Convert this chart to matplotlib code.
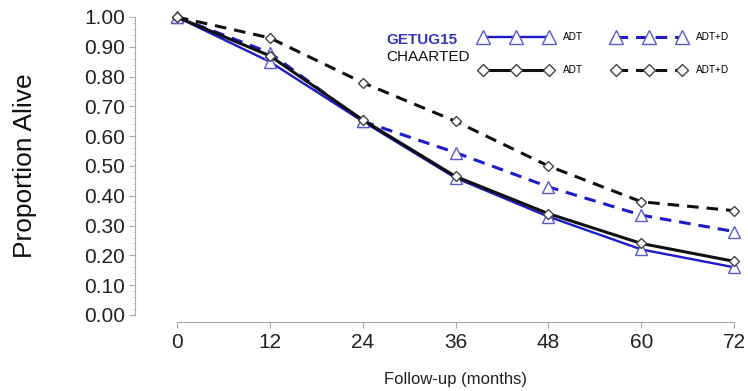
import matplotlib
matplotlib.use("Agg")
import matplotlib.pyplot as plt

plt.rcParams['font.family'] = ['Liberation Sans', 'DejaVu Sans']

months = [0, 12, 24, 36, 48, 60, 72]
getug_adt = [1.00, 0.85, 0.65, 0.46, 0.33, 0.22, 0.16]
getug_adtd = [1.00, 0.88, 0.65, 0.545, 0.43, 0.335, 0.28]
chaarted_adt = [1.00, 0.87, 0.655, 0.465, 0.34, 0.24, 0.18]
chaarted_adtd = [1.00, 0.93, 0.78, 0.65, 0.50, 0.38, 0.35]
yticks = [0.0, 0.1, 0.2, 0.3, 0.4, 0.5, 0.6, 0.7, 0.8, 0.9, 1.0]
legend_labels = ['ADT', 'ADT', 'ADT+D', 'ADT+D']

W, H = 748, 391
fig = plt.figure(figsize=(W/100, H/100), dpi=100)
x0, x1 = -5.4, 73.0
y0, y1 = -0.0235, 1.01
px_left, px_right = 135, 742
px_top = 315 - 298*1.01
px_bot = 322
ax = fig.add_axes([px_left/W, (H-px_bot)/H, (px_right-px_left)/W, (px_bot-px_top)/H])
ax.set_xlim(x0, x1)
ax.set_ylim(y0, y1)

blue = '#1c1cc8'
blue_m = '#5a5ac8'
black = '#101010'
dash = (0, (3.8, 2.6))

l1, = ax.plot(months, getug_adt, color=blue, lw=1.7, marker='^', markeredgecolor=blue_m,
              markersize=8.5, markerfacecolor='white', zorder=3, clip_on=False)
l2, = ax.plot(months, getug_adtd, color=blue, lw=2.2, ls=dash, marker='^', markeredgecolor=blue_m,
              markersize=8.5, markerfacecolor='white', zorder=3, clip_on=False)
l3, = ax.plot(months, chaarted_adt, color=black, lw=2.2, marker='D', markeredgecolor='#444444',
              markersize=5.5, markerfacecolor='white', zorder=4, clip_on=False)
l4, = ax.plot(months, chaarted_adtd, color=black, lw=2.2, ls=dash, marker='D', markeredgecolor='#444444',
              markersize=5.5, markerfacecolor='white', zorder=4, clip_on=False)

for s in ['top', 'right']:
    ax.spines[s].set_visible(False)
ax.spines['left'].set_bounds(0, 1)
ax.spines['bottom'].set_bounds(0, 72)
for s in ['left', 'bottom']:
    ax.spines[s].set_color('#aaaaaa')
    ax.spines[s].set_linewidth(0.8)

ax.set_yticks(yticks)
ax.set_yticklabels([f"{v:.2f}" for v in yticks])
ax.set_yticks([v/100 for v in range(0, 101, 2)], minor=True)
ax.set_xticks(months)
ax.tick_params(axis='both', colors='#aaaaaa', labelcolor='#222222', labelsize=15, length=4, width=0.8)
ax.tick_params(axis='y', which='major', pad=3)
ax.tick_params(axis='y', which='minor', length=2, colors='#cccccc', width=0.6)
ax.tick_params(axis='x', pad=4)

ax.set_ylabel('Proportion Alive', fontsize=19, color='#111111', labelpad=34)
ax.yaxis.label.set_y((322-166)/(322-px_top))
ax.set_xlabel('Follow-up (months)', fontsize=12, color='#222222', labelpad=14)
ax.xaxis.label.set_x((456-px_left)/(px_right-px_left))

fig.text(386/W, 1-40/H, 'GETUG15', fontsize=11, fontweight='bold', color='#3535c0', va='center')
fig.text(386/W, 1-57/H, 'CHAARTED', fontsize=11, color='#111111', va='center')

leg = ax.legend([l1, l3, l2, l4], legend_labels, ncol=2, numpoints=3,
                fontsize=7.2, frameon=False, handlelength=7.2, markerscale=1.15,
                columnspacing=3.0, handletextpad=1.1, labelspacing=2.3,
                loc='upper left', bbox_to_anchor=(480/W, 1-32/H), bbox_transform=fig.transFigure,
                borderaxespad=0, borderpad=0)

fig.savefig('out.png', dpi=100)
